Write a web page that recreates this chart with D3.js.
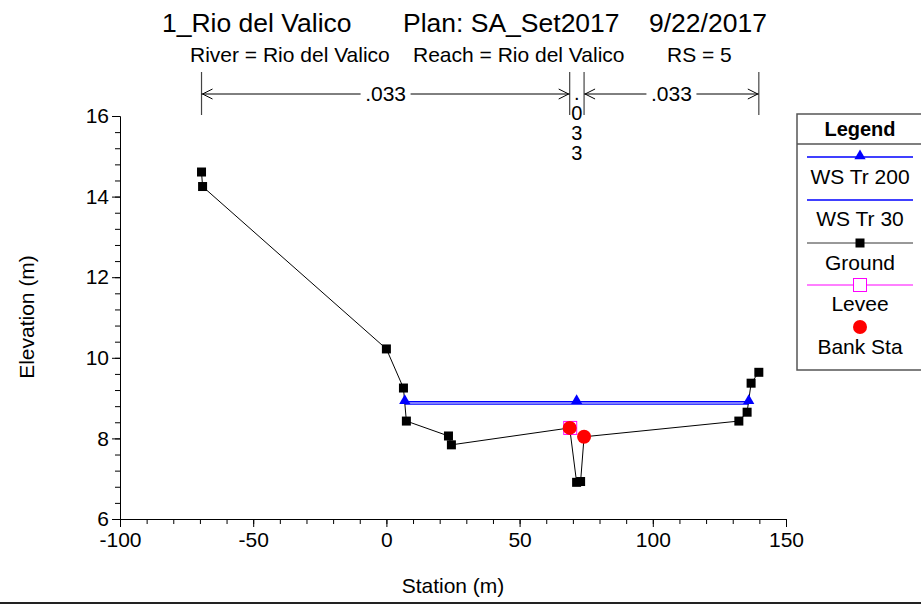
<!DOCTYPE html>
<html>
<head>
<meta charset="utf-8">
<script src="https://cdn.jsdelivr.net/npm/d3@7"></script>
<style>
  body { margin: 0; background: #fff; }
  svg { display: block; font-family: "Liberation Sans", Arial, sans-serif; }
</style>
</head>
<body>
<div id="chart"></div>
<script>
// ground profile (station m, elevation m)
const groundSta  = [-69.4, -69.0, 0.0, 6.4, 7.5, 23.3, 24.4, 68.8, 71.4, 72.9, 74.2, 132.3, 135.4, 136.9, 139.8];
const groundElev = [14.61, 14.25, 10.22, 9.25, 8.43, 8.06, 7.84, 8.26, 6.91, 6.93, 8.04, 8.43, 8.65, 9.37, 9.64];

// water surfaces
const ws200Sta  = [6.9, 71.4, 136.0];
const ws200Elev = [8.91, 8.91, 8.91];
const ws30Sta   = [6.9, 135.9];
const ws30Elev  = [8.85, 8.85];

// levee and bank stations
const leveeSta = [69.0];
const leveeElev = [8.26];
const bankSta  = [68.8, 74.2];
const bankElev = [8.26, 8.04];

// manning n breaks
const nSta  = [-69.4, 68.8, 74.2, 139.8];
const nVals = [".033", ".033", ".033"];

const xTicks = [-100, -50, 0, 50, 100, 150];
const yTicks = [6, 8, 10, 12, 14, 16];
const legendItems = ["WS Tr 200", "WS Tr 30", "Ground", "Levee", "Bank Sta"];

const W = 921, H = 604;
const svg = d3.select("#chart").append("svg").attr("width", W).attr("height", H);

const x = d3.scaleLinear().domain([-100, 150]).range([120, 786]);
const y = d3.scaleLinear().domain([6, 16]).range([519, 116]);

// titles
const t1 = svg.append("g").attr("font-size", 26.5).attr("fill", "#000");
t1.append("text").attr("x", 162).attr("y", 32).text("1_Rio del Valico");
t1.append("text").attr("x", 403).attr("y", 32).text("Plan: SA_Set2017");
t1.append("text").attr("x", 649).attr("y", 32).text("9/22/2017");
const t2 = svg.append("g").attr("font-size", 21).attr("fill", "#000");
t2.append("text").attr("x", 190).attr("y", 62).text("River = Rio del Valico");
t2.append("text").attr("x", 413).attr("y", 62).text("Reach = Rio del Valico");
t2.append("text").attr("x", 667).attr("y", 62).text("RS = 5");

// axes
const yMinor = d3.range(6, 16.001, 0.4);
const xMinor = d3.range(-100, 150.001, 10);
svg.append("g").attr("transform", "translate(120,0)")
  .call(d3.axisLeft(y).tickValues(yMinor).tickSize(5).tickFormat("").tickSizeOuter(0));
svg.append("g").attr("transform", "translate(120,0)")
  .call(d3.axisLeft(y).tickValues(yTicks).tickSize(8).tickSizeOuter(0).tickPadding(3).tickFormat(d => String(d)));
svg.append("g").attr("transform", "translate(0,519)")
  .call(d3.axisBottom(x).tickValues(xMinor).tickSize(5).tickFormat("").tickSizeOuter(0));
svg.append("g").attr("transform", "translate(0,519)")
  .call(d3.axisBottom(x).tickValues(xTicks).tickSize(8).tickSizeOuter(0).tickPadding(5).tickFormat(d => String(d)));
svg.selectAll(".domain, .tick line").attr("stroke", "#000");
svg.selectAll(".tick text").attr("font-size", 21).attr("font-family", "Liberation Sans, Arial, sans-serif").attr("fill", "#000");

svg.append("text").attr("x", 453).attr("y", 593).attr("text-anchor", "middle")
  .attr("font-size", 21).text("Station (m)");
svg.append("text").attr("transform", "translate(34,317) rotate(-90)").attr("text-anchor", "middle")
  .attr("font-size", 21).text("Elevation (m)");

// manning n bars
const nG = svg.append("g").attr("stroke", "#444").attr("fill", "none");
nSta.forEach(s => {
  nG.append("line").attr("x1", x(s)).attr("x2", x(s)).attr("y1", 72).attr("y2", 115).attr("stroke-width", 1.2);
});
const ay = 94;
function chev(px, dir) {
  // dir = -1 points left, +1 points right
  nG.append("path").attr("stroke", "#000")
    .attr("d", `M${px - dir * 10},${ay - 5}L${px},${ay}L${px - dir * 10},${ay + 5}`);
}
nVals.forEach((v, i) => {
  const a = x(nSta[i]), b = x(nSta[i + 1]);
  const mid = (a + b) / 2;
  if (b - a > 40) {
    const tw = 50;
    nG.append("line").attr("stroke", "#000").attr("x1", a).attr("x2", mid - tw / 2).attr("y1", ay).attr("y2", ay);
    nG.append("line").attr("stroke", "#000").attr("x1", mid + tw / 2).attr("x2", b).attr("y1", ay).attr("y2", ay);
    chev(a + 1, -1);
    chev(b - 1, 1);
    svg.append("text").attr("x", mid).attr("y", ay + 7).attr("text-anchor", "middle")
      .attr("font-size", 21).text(v);
  } else {
    // too narrow: write the value vertically, one character per line
    const vt = svg.append("text").attr("text-anchor", "middle").attr("font-size", 20);
    v.split("").forEach((c, k) => {
      vt.append("tspan").attr("x", mid).attr("y", ay + 6 + k * 20).text(c);
    });
  }
});

// water surface lines
const line = d3.line().x(d => x(d[0])).y(d => y(d[1]));
const ws200 = ws200Sta.map((s, i) => [s, ws200Elev[i]]);
const ws30 = ws30Sta.map((s, i) => [s, ws30Elev[i]]);
const ground = groundSta.map((s, i) => [s, groundElev[i]]);

svg.append("path").datum(ws30).attr("d", line).attr("fill", "none").attr("stroke", "#0000ff").attr("stroke-width", 1.3);
svg.append("path").datum(ws200).attr("d", line).attr("fill", "none").attr("stroke", "#0000ff").attr("stroke-width", 1.3);
svg.append("path").datum(ground).attr("d", line).attr("fill", "none").attr("stroke", "#000").attr("stroke-width", 1);

const tri = d3.symbol().type(d3.symbolTriangle).size(55);
svg.selectAll(".wsm").data(ws200).join("path").attr("class", "wsm")
  .attr("d", tri).attr("transform", d => `translate(${x(d[0])},${y(d[1]) - 1})`).attr("fill", "#0000ff");

svg.selectAll(".gm").data(ground).join("rect").attr("class", "gm")
  .attr("x", d => x(d[0]) - 4.5).attr("y", d => y(d[1]) - 4.5).attr("width", 9).attr("height", 9).attr("fill", "#000");

svg.selectAll(".lv").data(leveeSta.map((s, i) => [s, leveeElev[i]])).join("rect").attr("class", "lv")
  .attr("x", d => x(d[0]) - 6.5).attr("y", d => y(d[1]) - 6.5).attr("width", 13).attr("height", 13)
  .attr("fill", "none").attr("stroke", "#ff00ff").attr("stroke-width", 1);

svg.selectAll(".bk").data(bankSta.map((s, i) => [s, bankElev[i]])).join("circle").attr("class", "bk")
  .attr("cx", d => x(d[0])).attr("cy", d => y(d[1])).attr("r", 7).attr("fill", "#ff0000");

// legend
const lg = svg.append("g");
lg.append("rect").attr("x", 797).attr("y", 114).attr("width", 160).attr("height", 256)
  .attr("fill", "#fff").attr("stroke", "#555").attr("stroke-width", 1.5);
lg.append("line").attr("x1", 797).attr("x2", 921).attr("y1", 144).attr("y2", 144).attr("stroke", "#555").attr("stroke-width", 1.5);
lg.append("text").attr("x", 860).attr("y", 136).attr("text-anchor", "middle").attr("font-size", 20)
  .attr("font-weight", "bold").text("Legend");
const lx1 = 807, lx2 = 913, lcx = 860;
const rowY = [157, 200, 243, 285, 327];
const textY = [184, 226, 270, 311, 354];
legendItems.forEach((name, i) => {
  const ly = rowY[i];
  if (i === 0 || i === 1) {
    lg.append("line").attr("x1", lx1).attr("x2", lx2).attr("y1", ly).attr("y2", ly).attr("stroke", "#0000ff").attr("stroke-width", 1.3);
    if (i === 0) lg.append("path").attr("d", tri).attr("transform", `translate(${lcx},${ly - 1})`).attr("fill", "#0000ff");
  } else if (i === 2) {
    lg.append("line").attr("x1", lx1).attr("x2", lx2).attr("y1", ly).attr("y2", ly).attr("stroke", "#333").attr("stroke-width", 1);
    lg.append("rect").attr("x", lcx - 4.5).attr("y", ly - 4.5).attr("width", 9).attr("height", 9).attr("fill", "#000");
  } else if (i === 3) {
    lg.append("line").attr("x1", lx1).attr("x2", lx2).attr("y1", ly).attr("y2", ly).attr("stroke", "#ff00ff").attr("stroke-width", 1);
    lg.append("rect").attr("x", lcx - 6.5).attr("y", ly - 6.5).attr("width", 13).attr("height", 13)
      .attr("fill", "#fff").attr("stroke", "#ff00ff");
  } else {
    lg.append("circle").attr("cx", lcx).attr("cy", ly).attr("r", 7).attr("fill", "#ff0000");
  }
  lg.append("text").attr("x", lcx).attr("y", textY[i]).attr("text-anchor", "middle").attr("font-size", 21).text(name);
});

// bottom frame line
svg.append("line").attr("x1", 0).attr("x2", W).attr("y1", 603).attr("y2", 603).attr("stroke", "#222").attr("stroke-width", 2);
</script>
</body>
</html>
